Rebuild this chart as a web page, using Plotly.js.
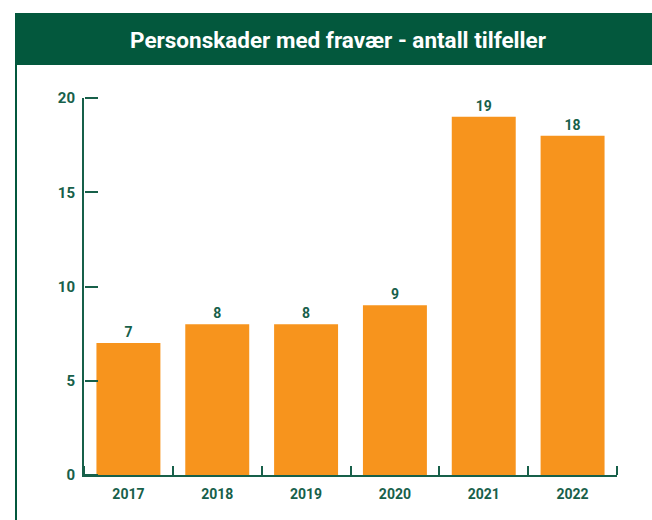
<!DOCTYPE html>
<html>
<head>
<meta charset="utf-8">
<script src="https://cdn.plot.ly/plotly-3.0.1.min.js"></script>
<style>html,body{margin:0;padding:0;background:#fff;}#chart{width:652px;height:520px;}</style>
</head>
<body>
<div id="chart"></div>
<script>
const years = ["2017", "2018", "2019", "2020", "2021", "2022"];
const injuries = [7, 8, 8, 9, 19, 18];
const yTicks = [0, 5, 10, 15, 20];
const titleText = "Personskader med fravær - antall tilfeller";

const green = "#03583d";
const textGreen = "#17604a";
const barColor = "#f7941d";
const fontFam = "Roboto, 'DejaVu Sans', sans-serif";

const bars = {
  type: "bar",
  x: years,
  y: injuries,
  marker: {color: barColor},
  width: 0.72,
  text: injuries.map(String),
  textposition: "outside",
  cliponaxis: false,
  textfont: {family: fontFam, size: 14, color: textGreen, weight: "bold"},
  hoverinfo: "none"
};
// invisible companion trace so the tick-only overlay axes get the same categories/range
const tickCarrier = {
  type: "scatter", mode: "none",
  x: years, y: injuries,
  xaxis: "x2", yaxis: "y2",
  hoverinfo: "none", showlegend: false
};

const L = 84, R = 617, T = 98, B = 475;
const pw = R - L, ph = B - T;
const px = v => (v - L) / pw;
const py = v => (B - v) / ph;

const tickFont = {family: fontFam, size: 14, color: textGreen, weight: "bold"};

const layout = {
  width: 652, height: 520,
  margin: {l: L, r: 652 - R, t: T, b: 520 - B, pad: 0},
  paper_bgcolor: "#ffffff",
  plot_bgcolor: "#ffffff",
  showlegend: false,
  bargap: 0.28,
  title: {
    text: titleText,
    font: {family: fontFam, size: 22.5, color: "#ffffff", weight: "bold"},
    x: 338 / 652, xanchor: "center",
    y: 1 - 40 / 520, yanchor: "middle"
  },
  xaxis: {
    type: "category",
    range: [-0.5, 5.5],
    showline: true, linecolor: textGreen, linewidth: 2,
    ticks: "",
    showgrid: false, zeroline: false,
    layer: "below traces",
    tickfont: tickFont,
    ticklabelstandoff: 5
  },
  yaxis: {
    range: [0, 20],
    tickmode: "array",
    tickvals: yTicks,
    ticktext: yTicks.map(String),
    showline: true, linecolor: textGreen, linewidth: 2,
    ticks: "",
    showgrid: false, zeroline: false,
    tickfont: {family: fontFam, size: 15, color: textGreen, weight: "bold"},
    ticklabelstandoff: 4
  },
  xaxis2: {
    type: "category",
    overlaying: "x", side: "top", anchor: "free", position: 0,
    range: [-0.5, 5.5],
    ticks: "outside", tickson: "boundaries", ticklen: 9, tickwidth: 2, tickcolor: textGreen,
    showticklabels: false, showline: false, showgrid: false, zeroline: false
  },
  yaxis2: {
    overlaying: "y", side: "right", anchor: "free", position: 0,
    range: [0, 20],
    tickmode: "array", tickvals: yTicks,
    ticks: "outside", ticklen: 13, tickwidth: 2, tickcolor: textGreen,
    showticklabels: false, showline: false, showgrid: false, zeroline: false
  },
  shapes: [
    {type: "rect", xref: "paper", yref: "paper", layer: "below",
     x0: px(15), x1: px(660), y0: py(65), y1: py(13),
     fillcolor: green, line: {width: 0}},
    {type: "line", xref: "paper", yref: "paper", layer: "below",
     x0: px(16), x1: px(16), y0: py(13), y1: py(525),
     line: {color: green, width: 2}}
  ]
};

Plotly.newPlot("chart", [bars, tickCarrier], layout, {displayModeBar: false, staticPlot: true});
</script>
</body>
</html>
